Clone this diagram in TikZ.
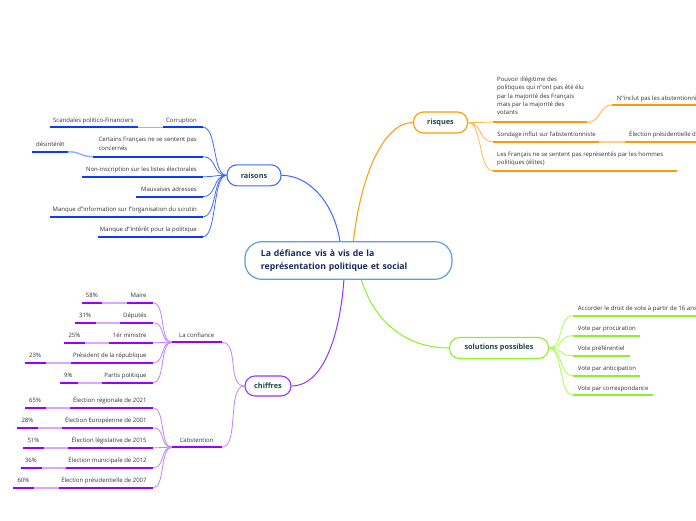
\documentclass[tikz,border=0pt]{standalone}
\usepackage{fontspec}
\setmainfont{Open Sans}
\usetikzlibrary{calc}
\definecolor{cCen}{HTML}{5B9FDC}
\definecolor{cTitle}{HTML}{1B2A5E}
\definecolor{cBr}{HTML}{1E4848}
\definecolor{cTxt}{HTML}{333333}
\definecolor{bU}{HTML}{0A3CFF}
\definecolor{bC}{HTML}{3F6BFF}
\definecolor{bF}{HTML}{9DB2FF}
\definecolor{oU}{HTML}{FF9A00}
\definecolor{oC}{HTML}{FFB84D}
\definecolor{oF}{HTML}{FFD08A}
\definecolor{gU}{HTML}{8CF02A}
\definecolor{gC}{HTML}{A6FF4D}
\definecolor{pU}{HTML}{9900FF}
\definecolor{pC}{HTML}{C283FF}
\definecolor{pF}{HTML}{D6A8FF}
\definecolor{pB}{HTML}{9933FF}
\pgfdeclarelayer{bg}
\pgfsetlayers{bg,main}
\newcommand\UL[5]{\coordinate (#1-l) at (#2,#4);\coordinate (#1-r) at (#3,#4);\draw[ul,#5] (#1-l) -- (#1-r);}
\begin{document}
\begin{tikzpicture}[x=1pt,y=-1pt,
  central/.style={draw=cCen, line width=1.2pt, fill=white, rounded corners=17pt, text width=175pt, inner xsep=16pt, inner ysep=0pt, minimum height=37.6pt, align=left, font=\fontsize{8.7}{13}\selectfont\bfseries, text=cTitle},
  branch/.style={line width=1.1pt, fill=white, rounded corners=10pt, minimum height=21pt, inner xsep=0pt, font=\fontsize{7.3}{9}\selectfont\bfseries, text=cBr},
  leaf/.style={inner sep=0pt, font=\fontsize{6}{8.3}\selectfont, text=cTxt},
  ul/.style={line width=1.8pt},
  lnk/.style={line width=0.8pt},
  fade/.style={line width=1.6pt}]
\useasboundingbox (0,0) rectangle (696,520);
\begin{pgfonlayer}{bg}
\fill[white] (0,0) rectangle (696,520);
\end{pgfonlayer}

% central and branches
\node[central] (c) at (348.4,260.5) {La défiance \hspace{1pt}vis à vis de la\\représentation politique et social};
\node[branch, draw=bC, minimum width=54pt] (rai) at (254,175.3) {raisons};
\node[branch, draw=oU, minimum width=54pt] (ris) at (440.5,122.5) {risques};
\node[branch, draw=gU, minimum width=99pt] (sol) at (499,348) {solutions possibles};
\node[branch, draw=pB, minimum width=46pt, minimum height=20pt] (chi) at (268,386) {chiffres};

% raisons leaves
\UL{R1}{163}{203}{127.3}{bU}
\node[leaf,anchor=base east] (R1) at ($(R1-r)+(-6,-5)$) {Corruption};
\UL{R1a}{50}{138}{127.3}{bU}
\node[leaf,anchor=base west] (R1a) at ($(R1a-l)+(3,-5)$) {Scandales politico-Financiers};
\UL{R2}{93}{203}{156.7}{bU}
\node[leaf,anchor=north east,align=left] (R2) at (197,137.2) {Certains Français ne se sentent pas\\concernés};
\UL{R2a}{32}{68}{151.7}{bU}
\node[leaf,anchor=base west] (R2a) at ($(R2a-l)+(4,-5)$) {désintérêt};
\UL{R3}{82}{203}{176.7}{bU}
\node[leaf,anchor=base east] (R3) at ($(R3-r)+(-6,-5)$) {Non-inscription sur les listes électorales};
\UL{R4}{136}{203}{196.7}{bU}
\node[leaf,anchor=base east] (R4) at ($(R4-r)+(-6,-5)$) {Mauvaises adresses};
\UL{R5}{50}{203}{216.7}{bU}
\node[leaf,anchor=base east] (R5) at ($(R5-r)+(-6,-5)$) {Manque d'\kern.3pt'information sur l'\kern.3pt'organisation du scrutin};
\UL{R6}{98}{203}{236.7}{bU}
\node[leaf,anchor=base east] (R6) at ($(R6-r)+(-6,-5)$) {Manque d'\kern.3pt'intérêt pour la politique};

% risques leaves
\UL{K1}{492.7}{587}{122.3}{oU}
\node[leaf,anchor=north west,align=left] (K1) at (497,76.7) {Pouvoir illégitime des\\politiques qui n'\kern.3pt'ont pas été élu\\par la majorité des Français\\mais par la majorité des\\votants};
\UL{K1a}{611.7}{700}{105}{oU}
\node[leaf,anchor=base west] (K1a) at ($(K1a-l)+(5,-5)$) {N'\kern.3pt'inclut pas les abstentionnistes};
\UL{K2}{492.7}{599}{141.7}{oU}
\node[leaf,anchor=base west] (K2) at ($(K2-l)+(4.5,-5)$) {Sondage influt sur l'abstentionniste};
\UL{K2a}{625}{700}{141.7}{oU}
\node[leaf,anchor=base west] (K2a) at ($(K2a-l)+(4,-5)$) {Élection présidentielle de};
\UL{K3}{492.7}{676.7}{170.7}{oU}
\node[leaf,anchor=north west,align=left] (K3) at (497,151.5) {Les Français ne se sentent pas représentés par les hommes\\politiques (élites)};

% solutions leaves
\UL{S1}{572.7}{700}{315.7}{gU}
\node[leaf,anchor=base west] (S1) at ($(S1-l)+(5,-5)$) {Accorder le droit de vote à partir de 16 ans};
\UL{S2}{572.7}{640}{335.7}{gU}
\node[leaf,anchor=base west] (S2) at ($(S2-l)+(5,-5)$) {Vote par procuration};
\UL{S3}{572.7}{630}{355.7}{gU}
\node[leaf,anchor=base west] (S3) at ($(S3-l)+(5,-5)$) {Vote préférentiel};
\UL{S4}{572.7}{640}{375.7}{gU}
\node[leaf,anchor=base west] (S4) at ($(S4-l)+(5,-5)$) {Vote par anticipation};
\UL{S5}{572.7}{653.3}{395}{gU}
\node[leaf,anchor=base west] (S5) at ($(S5-l)+(5,-5)$) {Vote par correspondance};

% chiffres
\UL{C1}{171.7}{221.7}{342.3}{pU}
\node[leaf,anchor=base] (C1) at ($(C1-l)!0.5!(C1-r)+(0,-5)$) {La confiance};
\UL{C2}{171.7}{221.7}{447.3}{pU}
\node[leaf,anchor=base] (C2) at ($(C2-l)!0.5!(C2-r)+(0,-5)$) {L'abstention};

\UL{M1}{126.7}{153.3}{302.7}{pU}
\node[leaf,anchor=base east] (M1) at ($(M1-r)+(-6.5,-5)$) {Maire};
\UL{M1a}{81.7}{102.3}{302.7}{pU}
\node[leaf,anchor=base west] (M1a) at ($(M1a-l)+(4,-5)$) {58\%};
\UL{M2}{120}{153.3}{322.7}{pU}
\node[leaf,anchor=base east] (M2) at ($(M2-r)+(-6.5,-5)$) {Députés};
\UL{M2a}{75}{96}{322.7}{pU}
\node[leaf,anchor=base west] (M2a) at ($(M2a-l)+(4,-5)$) {31\%};
\UL{M3}{109.3}{153.3}{342.7}{pU}
\node[leaf,anchor=base east] (M3) at ($(M3-r)+(-6.5,-5)$) {1ér ministre};
\UL{M3a}{64.3}{85}{342.7}{pU}
\node[leaf,anchor=base west] (M3a) at ($(M3a-l)+(4,-5)$) {25\%};
\UL{M4}{70.7}{153.3}{362.7}{pU}
\node[leaf,anchor=base east] (M4) at ($(M4-r)+(-6.5,-5)$) {Président de la république};
\UL{M4a}{25}{46}{362.7}{pU}
\node[leaf,anchor=base west] (M4a) at ($(M4a-l)+(4,-5)$) {23\%};
\UL{M5}{101.7}{153.3}{382.7}{pU}
\node[leaf,anchor=base east] (M5) at ($(M5-r)+(-6.5,-5)$) {Partis politique};
\UL{M5a}{60}{77.7}{382.7}{pU}
\node[leaf,anchor=base west] (M5a) at ($(M5a-l)+(4,-5)$) {9\%};

\UL{A1}{70}{153.3}{407.7}{pU}
\node[leaf,anchor=base east] (A1) at ($(A1-r)+(-6.5,-5)$) {Élection régionale de 2021};
\UL{A1a}{25}{45.7}{407.7}{pU}
\node[leaf,anchor=base west] (A1a) at ($(A1a-l)+(4,-5)$) {65\%};
\UL{A2}{62.3}{153.3}{427.7}{pU}
\node[leaf,anchor=base east] (A2) at ($(A2-r)+(-6.5,-5)$) {Élection Européenne de 2001};
\UL{A2a}{17.3}{38.3}{427.7}{pU}
\node[leaf,anchor=base west] (A2a) at ($(A2a-l)+(4,-5)$) {28\%};
\UL{A3}{68.3}{153.3}{447.7}{pU}
\node[leaf,anchor=base east] (A3) at ($(A3-r)+(-6.5,-5)$) {Élection législative de 2015};
\UL{A3a}{23.3}{44.3}{447.7}{pU}
\node[leaf,anchor=base west] (A3a) at ($(A3a-l)+(4,-5)$) {51\%};
\UL{A4}{65.7}{153.3}{467.7}{pU}
\node[leaf,anchor=base east] (A4) at ($(A4-r)+(-6.5,-5)$) {Élection municipale de 2012};
\UL{A4a}{20.7}{41.7}{467.7}{pU}
\node[leaf,anchor=base west] (A4a) at ($(A4a-l)+(4,-5)$) {36\%};
\UL{A5}{59}{153.3}{487.7}{pU}
\node[leaf,anchor=base east] (A5) at ($(A5-r)+(-6.5,-5)$) {Élection présidentielle de 2007};
\UL{A5a}{13.3}{34.3}{487.7}{pU}
\node[leaf,anchor=base west] (A5a) at ($(A5a-l)+(4,-5)$) {60\%};

% connectors
\begin{pgfonlayer}{bg}
\draw[bC,line width=1pt] ([xshift=-8.5pt]c.north) .. controls +(-6,-38) and +(28,0) .. (rai.east);
\draw[oU,line width=1pt] ([xshift=5pt]c.north) .. controls +(8,-70) and +(-28,0) .. (ris.west);
\draw[pB,line width=1pt] ([xshift=-4.5pt]c.south) .. controls +(-4,55) and +(32,0) .. (chi.east);
\draw[gU,line width=1pt] ([xshift=13pt]c.south) .. controls +(14,45) and +(-40,0) .. (sol.west);

\foreach \n in {R1,R2,R3,R4,R5,R6}
  \draw[lnk,bC] (rai.west) .. controls +(-14,0) and +(14,0) .. (\n-r);
\draw[fade,bF] (R1a-r) -- (R1-l);
\draw[fade,bF] (R2-l) .. controls +(-12,0) and +(12,0) .. (R2a-r);

\foreach \n in {K1,K2,K3}
  \draw[lnk,oC] (ris.east) .. controls +(14,0) and +(-14,0) .. (\n-l);
\draw[fade,oF] (K1-r) .. controls +(14,0) and +(-12,0) .. (K1a-l);
\draw[fade,oF] (K2-r) -- (K2a-l);

\foreach \n in {S1,S2,S3,S4,S5}
  \draw[lnk,gC] (sol.east) .. controls +(14,0) and +(-14,0) .. (\n-l);

\draw[lnk,pC] (chi.west) .. controls +(-18,0) and +(18,0) .. (C1-r);
\draw[lnk,pC] (chi.west) .. controls +(-18,0) and +(18,0) .. (C2-r);
\foreach \n in {M1,M2,M3,M4,M5}
  \draw[lnk,pC] (C1-l) .. controls +(-12,0) and +(12,0) .. (\n-r);
\foreach \n in {A1,A2,A3,A4,A5}
  \draw[lnk,pC] (C2-l) .. controls +(-12,0) and +(12,0) .. (\n-r);
\foreach \n in {M1,M2,M3,M4,M5,A1,A2,A3,A4,A5}
  \draw[fade,pF] (\n a-r) -- (\n-l);
\end{pgfonlayer}
\end{tikzpicture}
\end{document}
